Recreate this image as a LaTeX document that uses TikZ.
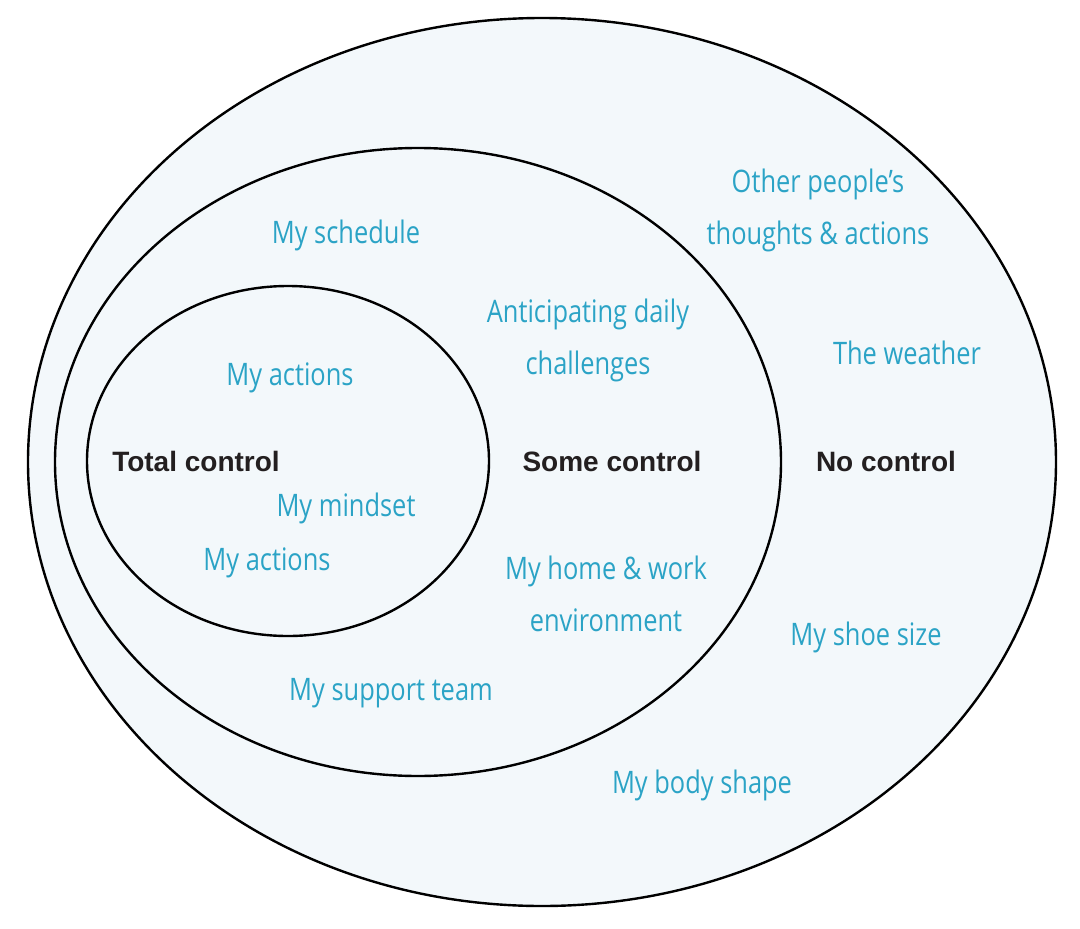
\documentclass[tikz,border=0pt]{standalone}
\usepackage{fontspec}
\setmainfont{Open Sans}
\newfontfamily\labelfont{Liberation Sans}
\usepackage{graphicx}
\definecolor{fillblue}{HTML}{F3F8FB}
\definecolor{handteal}{RGB}{43,163,198}
\definecolor{labeldark}{HTML}{231F20}
\newcommand{\hw}[1]{\scalebox{0.82}[1]{#1}}
\tikzset{
  ring/.style={draw=black, line width=2.4pt, fill=fillblue},
  hand/.style={text=handteal, align=center, inner sep=0pt, font=\fontsize{31}{52}\selectfont},
  zone/.style={text=labeldark, inner sep=0pt, font=\labelfont\bfseries\fontsize{28}{33}\selectfont}
}
\begin{document}
\begin{tikzpicture}[x=1pt,y=-1pt]
\useasboundingbox (0,0) rectangle (1080,929);
\fill[white] (0,0) rectangle (1080,929);
% rings
\draw[ring] (542,462) ellipse [x radius=514pt, y radius=444pt];
\draw[ring] (418,462) ellipse [x radius=363pt, y radius=314pt];
\draw[ring] (288,461) ellipse [x radius=201pt, y radius=175pt];
% zone labels
\node[zone] (total) at (196,461) {Total control};
\node[zone] (some) at (612,461) {Some control};
\node[zone] (none) at (886,461) {No control};
% handwritten items
\node[hand] (others) at (818,210) {\hw{Other people’s}\\\hw{thoughts \& actions}};
\node[hand] (schedule) at (346,235) {\hw{My schedule}};
\node[hand] (anticip) at (588,340) {\hw{Anticipating daily}\\\hw{challenges}};
\node[hand] (weather) at (907,353) {\hw{The weather}};
\node[hand] (actions1) at (290,378) {\hw{My actions}};
\node[hand] (mindset) at (346,508) {\hw{My mindset}};
\node[hand] (actions2) at (267,563) {\hw{My actions}};
\node[hand] (homework) at (606,594) {\hw{My home \& work}\\\hw{environment}};
\node[hand] (shoe) at (866,637) {\hw{My shoe size}};
\node[hand] (support) at (391,693) {\hw{My support team}};
\node[hand] (body) at (702,785) {\hw{My body shape}};
\end{tikzpicture}
\end{document}
